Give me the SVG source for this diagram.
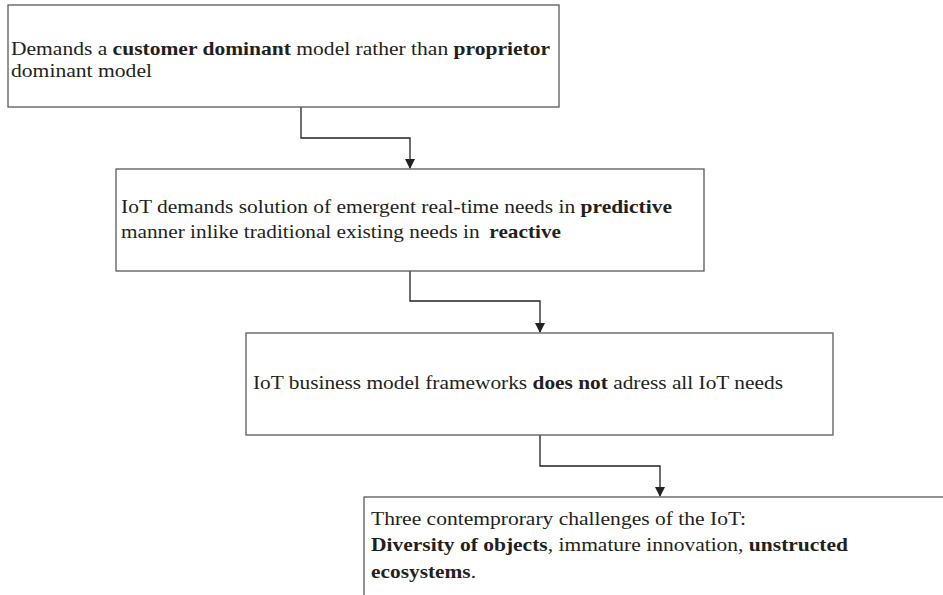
<svg xmlns="http://www.w3.org/2000/svg" width="943" height="595" viewBox="0 0 943 595">
<style>
.box{fill:#fff;stroke:#5a5a5a;stroke-width:1.3}
.t{font-family:"Liberation Serif","Times New Roman",serif;font-size:19px;fill:#231f20}
.b{font-weight:bold}
.c{fill:none;stroke:#222;stroke-width:1.3}
</style>
<defs>
<marker id="arr" markerWidth="10" markerHeight="10" refX="9" refY="5" orient="auto" markerUnits="userSpaceOnUse">
<path d="M0,0 L10,5 L0,10 Z" fill="#222"/>
</marker>
</defs>
<g id="connectors">
<path class="c" d="M301,107 V138 H410 V168" marker-end="url(#arr)"/>
<path class="c" d="M410,271 V301 H540 V332" marker-end="url(#arr)"/>
<path class="c" d="M540,435 V466 H660 V496" marker-end="url(#arr)"/>
</g>
<g id="n1">
<rect class="box" x="8" y="5" width="551" height="102"/>
<text class="t" x="11" y="55" textLength="539" lengthAdjust="spacingAndGlyphs">Demands a <tspan class="b">customer dominant</tspan> model rather than <tspan class="b">proprietor</tspan></text>
<text class="t" x="11" y="77" textLength="141" lengthAdjust="spacingAndGlyphs">dominant model</text>
</g>
<g id="n2">
<rect class="box" x="116" y="169" width="588" height="102"/>
<text class="t" x="121" y="213" textLength="551" lengthAdjust="spacingAndGlyphs">IoT demands solution of emergent real-time needs in <tspan class="b">predictive</tspan></text>
<text class="t" x="121" y="238" textLength="440" lengthAdjust="spacingAndGlyphs">manner inlike traditional existing needs in  <tspan class="b" dx="4">reactive</tspan></text>
</g>
<g id="n3">
<rect class="box" x="246" y="333" width="587" height="102"/>
<text class="t" x="253" y="389" textLength="530" lengthAdjust="spacingAndGlyphs">IoT business model frameworks <tspan class="b">does not</tspan> adress all IoT needs</text>
</g>
<g id="n4">
<rect class="box" x="364" y="497" width="600" height="120"/>
<text class="t" x="371" y="525" textLength="375" lengthAdjust="spacingAndGlyphs">Three contemprorary challenges of the IoT:</text>
<text class="t" x="371" y="551" textLength="477" lengthAdjust="spacingAndGlyphs"><tspan class="b">Diversity of objects</tspan>, immature innovation, <tspan class="b">unstructed</tspan></text>
<text class="t" x="371" y="578" textLength="105" lengthAdjust="spacingAndGlyphs"><tspan class="b">ecosystems</tspan>.</text>
</g>
</svg>
